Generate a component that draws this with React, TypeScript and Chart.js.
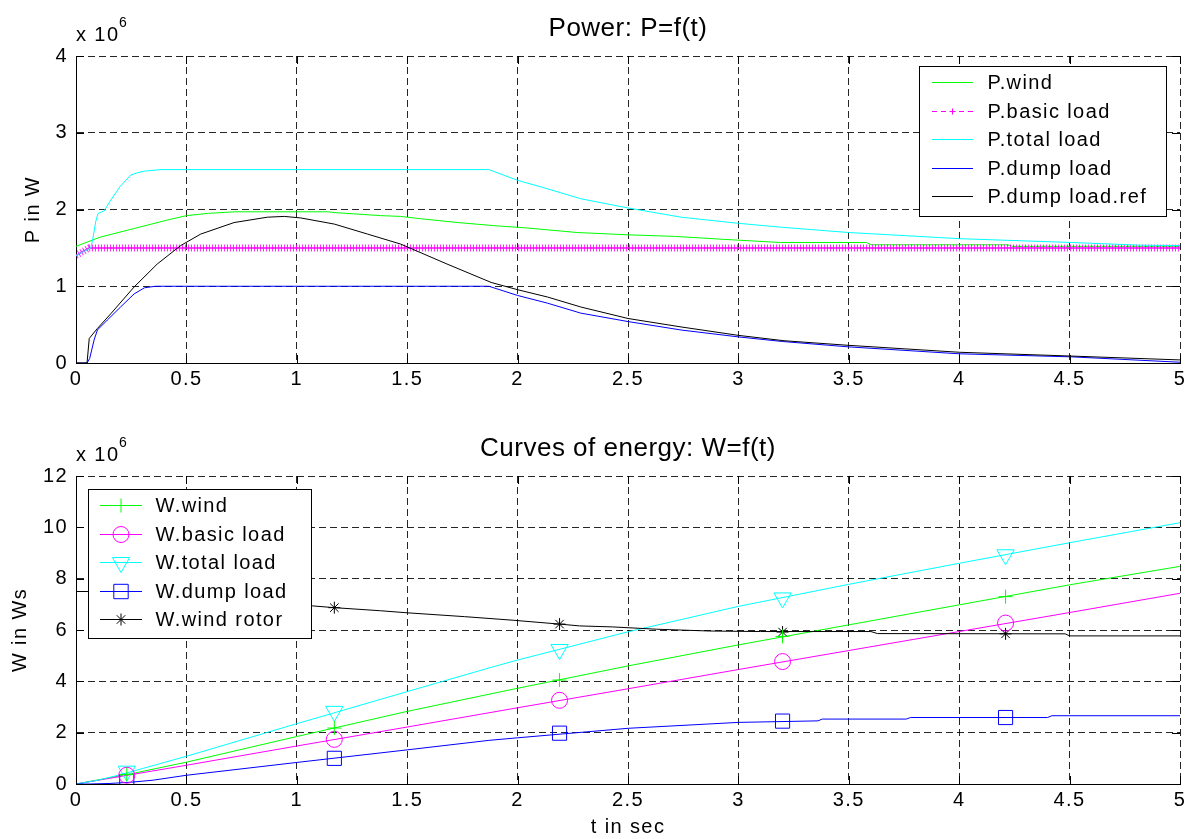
import React, { useEffect, useRef } from 'react';
import { Chart, registerables } from 'chart.js';

Chart.register(...registerables);

const FONT = '"Liberation Sans", Arial, Helvetica, sans-serif';

// ---------------- Power plot (values in 10^6 W) ----------------
const windT = [0, 0.11, 0.26, 0.41, 0.5, 0.6, 0.72, 1.14, 1.17, 1.38, 1.47, 1.56, 1.73, 1.89, 2.04, 2.27, 2.5, 2.71, 2.94, 3.19, 3.58, 3.6, 4.22, 4.24, 5.0];
const windP = [1.52, 1.64, 1.75, 1.86, 1.92, 1.95, 1.97, 1.97, 1.96, 1.92, 1.91, 1.88, 1.83, 1.79, 1.76, 1.7, 1.67, 1.65, 1.61, 1.57, 1.57, 1.54, 1.54, 1.52, 1.52];

const basicT = [0, 0.03, 0.06, 5.0];
const basicP = [1.4, 1.45, 1.5, 1.5];

const totalT = [0, 0.04, 0.067, 0.075, 0.09, 0.1, 0.127, 0.157, 0.2, 0.248, 0.28, 0.31, 0.385, 1.87, 2.0, 2.135, 2.286, 2.5, 2.74, 3.0, 3.19, 3.5, 4.0, 4.51, 4.82, 5.0];
const totalP = [1.4, 1.46, 1.5, 1.6, 1.85, 1.95, 1.98, 2.12, 2.3, 2.45, 2.48, 2.5, 2.52, 2.52, 2.38, 2.27, 2.14, 2.02, 1.9, 1.82, 1.77, 1.7, 1.62, 1.57, 1.535, 1.53];

const dumpT = [0, 0.05, 0.062, 0.082, 0.097, 0.142, 0.202, 0.263, 0.31, 0.36, 1.87, 2.0, 2.135, 2.286, 2.5, 2.74, 3.0, 3.2, 3.5, 4.0, 4.51, 5.0];
const dumpP = [0, 0, 0.06, 0.3, 0.43, 0.56, 0.73, 0.9, 0.98, 1.0, 1.0, 0.88, 0.78, 0.65, 0.54, 0.43, 0.34, 0.28, 0.21, 0.12, 0.08, 0.01];

const refT = [0, 0.05, 0.06, 0.097, 0.157, 0.263, 0.368, 0.474, 0.565, 0.716, 0.867, 0.943, 1.018, 1.17, 1.32, 1.47, 1.68, 1.88, 2.0, 2.135, 2.286, 2.5, 2.74, 3.0, 3.207, 3.5, 4.0, 4.51, 5.0];
const refP = [0, 0, 0.32, 0.45, 0.64, 0.99, 1.29, 1.53, 1.68, 1.83, 1.9, 1.91, 1.89, 1.81, 1.68, 1.55, 1.29, 1.05, 0.955, 0.86, 0.73, 0.58, 0.47, 0.36, 0.29, 0.23, 0.14, 0.09, 0.04];

// ---------------- Energy plot (values in 10^6 Ws) ----------------
const eWindT = [0, 0.25, 0.5, 1.0, 1.5, 2.0, 2.5, 3.0, 3.5, 4.0, 4.5, 5.0];
const eWindW = [0, 0.4, 0.85, 1.85, 2.83, 3.73, 4.6, 5.42, 6.2, 6.98, 7.76, 8.48];

const eBasicT = [0, 0.5, 1.0, 1.5, 2.0, 2.5, 3.0, 3.5, 4.0, 4.5, 5.0];
const eBasicW = [0, 0.73, 1.48, 2.22, 2.97, 3.71, 4.46, 5.2, 5.94, 6.68, 7.43];

const eTotalT = [0, 0.07, 0.1, 0.2, 0.3, 0.4, 0.5, 1.0, 1.5, 1.87, 2.0, 2.5, 3.0, 3.5, 4.0, 4.5, 5.0];
const eTotalW = [0, 0.1, 0.15, 0.36, 0.6, 0.84, 1.08, 2.35, 3.6, 4.52, 4.83, 5.93, 6.92, 7.78, 8.6, 9.4, 10.18];

const eDumpT = [0, 0.06, 0.15, 0.25, 0.35, 0.5, 1.0, 1.5, 1.87, 2.0, 2.5, 3.0, 3.36, 3.38, 3.76, 3.78, 4.4, 4.42, 5.0];
const eDumpW = [0, 0, 0.02, 0.07, 0.15, 0.34, 0.84, 1.33, 1.7, 1.8, 2.17, 2.4, 2.46, 2.53, 2.53, 2.59, 2.59, 2.66, 2.66];

const eRotorT = [0, 0.05, 0.3, 0.6, 0.9, 1.07, 1.17, 1.38, 1.5, 1.76, 1.98, 2.19, 2.28, 2.43, 2.63, 2.87, 3.1, 3.6, 3.63, 4.48, 4.5, 5.0];
const eRotorW = [7.5, 7.5, 7.42, 7.25, 7.05, 6.94, 6.87, 6.75, 6.67, 6.52, 6.38, 6.23, 6.16, 6.12, 6.03, 5.96, 5.94, 5.94, 5.86, 5.85, 5.77, 5.77];

const markerT = [0.23, 1.17, 2.19, 3.2, 4.21];
const mWind = [0.37, 2.18, 4.05, 5.75, 7.3];
const mBasic = [0.34, 1.74, 3.26, 4.77, 6.27];
const mTotal = [0.5, 2.83, 5.24, 7.25, 8.93];
const mDump = [0.1, 1.0, 1.98, 2.45, 2.59];
const mRotor = [7.4, 6.87, 6.23, 5.92, 5.85];

// ---------------- Text ----------------
const powerTitle = 'Power: P=f(t)';
const energyTitle = 'Curves of energy: W=f(t)';
const powerYLabel = 'P in W';
const energyYLabel = 'W in Ws';
const xLabel = 't in sec';
const powerLabels = ['P.wind', 'P.basic load', 'P.total load', 'P.dump load', 'P.dump load.ref'];
const energyLabels = ['W.wind', 'W.basic load', 'W.total load', 'W.dump load', 'W.wind rotor'];

const GREEN = '#00ff00';
const MAGENTA = '#ff00ff';
const CYAN = '#00ffff';
const BLUE = '#0000ff';
const BLACK = '#000000';
const GRID = 'rgba(0,0,0,0.85)';

const pts = (t: number[], v: number[]) => t.map((x, i) => ({ x, y: v[i] }));
const fmt = (v: any) => String(Math.round(Number(v) * 100) / 100);

function drawMarker(ctx: CanvasRenderingContext2D, type: string, x: number, y: number, color: string) {
  ctx.save();
  ctx.strokeStyle = color;
  ctx.lineWidth = 1;
  ctx.setLineDash([]);
  ctx.beginPath();
  if (type === 'cross') {
    const r = 7;
    ctx.moveTo(x - r, y); ctx.lineTo(x + r, y);
    ctx.moveTo(x, y - r); ctx.lineTo(x, y + r);
  } else if (type === 'smallcross') {
    const r = 3;
    ctx.moveTo(x - r, y); ctx.lineTo(x + r, y);
    ctx.moveTo(x, y - r); ctx.lineTo(x, y + r);
  } else if (type === 'circle') {
    ctx.arc(x, y, 8, 0, Math.PI * 2);
  } else if (type === 'triangle') {
    const r = 10;
    ctx.moveTo(x, y + r);
    ctx.lineTo(x - r * Math.sin(Math.PI / 3), y - r / 2);
    ctx.lineTo(x + r * Math.sin(Math.PI / 3), y - r / 2);
    ctx.closePath();
  } else if (type === 'rect') {
    const s = 7.2;
    ctx.rect(x - s, y - s, 2 * s, 2 * s);
  } else if (type === 'star') {
    const r = 6;
    const d = r * Math.SQRT1_2;
    ctx.moveTo(x - r, y); ctx.lineTo(x + r, y);
    ctx.moveTo(x, y - r); ctx.lineTo(x, y + r);
    ctx.moveTo(x - d, y - d); ctx.lineTo(x + d, y + d);
    ctx.moveTo(x - d, y + d); ctx.lineTo(x + d, y - d);
  }
  ctx.stroke();
  ctx.restore();
}

type LegendRow = { label: string; color: string; dash?: number[]; marker?: string };
type Deco = {
  title: string;
  titleY: number;
  expY: number;
  expSupY: number;
  legend: { x: number; y: number; w: number; h: number; row0: number; gap: number; lineX0: number; lineX1: number; textX: number; rows: LegendRow[] };
};

function makeDeco(d: Deco) {
  return {
    id: 'deco',
    beforeDraw(chart: any) {
      const ctx = chart.ctx;
      ctx.save();
      ctx.fillStyle = '#fff';
      ctx.fillRect(0, 0, chart.width, chart.height);
      ctx.restore();
      ctx.letterSpacing = '1.4px';
    },
    afterDraw(chart: any) {
      const ctx: CanvasRenderingContext2D = chart.ctx;
      const { left, right, top, bottom } = chart.chartArea;
      const xs = chart.scales.x;
      const ys = chart.scales.y;
      // inward tick marks on all four sides
      ctx.save();
      ctx.strokeStyle = '#000';
      ctx.lineWidth = 1;
      ctx.setLineDash([]);
      ctx.beginPath();
      xs.ticks.forEach((t: any) => {
        const px = Math.round(xs.getPixelForValue(t.value)) + 0.5;
        ctx.moveTo(px, bottom); ctx.lineTo(px, bottom - 8);
        ctx.moveTo(px, top); ctx.lineTo(px, top + 8);
      });
      ys.ticks.forEach((t: any) => {
        const py = Math.round(ys.getPixelForValue(t.value)) + 0.5;
        ctx.moveTo(left, py); ctx.lineTo(left + 8, py);
        ctx.moveTo(right, py); ctx.lineTo(right - 8, py);
      });
      ctx.stroke();
      ctx.restore();

      // title
      ctx.save();
      (ctx as any).letterSpacing = '0.5px';
      ctx.fillStyle = '#000';
      ctx.font = `26px ${FONT}`;
      ctx.textAlign = 'center';
      ctx.textBaseline = 'alphabetic';
      ctx.fillText(d.title, (left + right) / 2, d.titleY);
      // exponent label
      (ctx as any).letterSpacing = '1.4px';
      ctx.textAlign = 'left';
      ctx.font = `20px ${FONT}`;
      ctx.fillText('x 10', left, d.expY);
      ctx.font = `14px ${FONT}`;
      ctx.fillText('6', left + 43, d.expSupY);
      ctx.restore();

      // legend
      const L = d.legend;
      ctx.save();
      ctx.fillStyle = '#fff';
      ctx.fillRect(L.x, L.y, L.w, L.h);
      ctx.strokeStyle = '#000';
      ctx.lineWidth = 1;
      ctx.setLineDash([]);
      ctx.strokeRect(L.x + 0.5, L.y + 0.5, L.w, L.h);
      L.rows.forEach((r, i) => {
        const y = Math.round(L.row0 + i * L.gap) + 0.5;
        ctx.save();
        ctx.strokeStyle = r.color;
        ctx.lineWidth = 1;
        ctx.setLineDash(r.dash || []);
        ctx.beginPath();
        ctx.moveTo(L.lineX0, y);
        ctx.lineTo(L.lineX1, y);
        ctx.stroke();
        ctx.restore();
        if (r.marker) drawMarker(ctx, r.marker, (L.lineX0 + L.lineX1) / 2, y, r.color);
        ctx.fillStyle = '#000';
        (ctx as any).letterSpacing = '1.4px';
        ctx.font = `20px ${FONT}`;
        ctx.textAlign = 'left';
        ctx.textBaseline = 'middle';
        ctx.fillText(r.label, L.textX, y + 1);
      });
      ctx.restore();
    },
  };
}

const tickFont = { family: FONT, size: 20 };

function xScale(height: number, title?: string) {
  return {
    type: 'linear',
    min: 0,
    max: 5,
    ticks: { stepSize: 0.5, padding: 4, color: '#000', font: tickFont, maxRotation: 0, autoSkip: false, callback: fmt },
    grid: { color: GRID, drawTicks: false, lineWidth: 1 },
    border: { display: true, color: '#000', width: 1, dash: [7, 4] },
    title: title
      ? { display: true, text: title, color: '#000', font: tickFont, padding: { top: 0, bottom: 0 } }
      : { display: false },
    afterFit: (s: any) => {
      s.height = height;
      s.paddingLeft = 0;
      s.paddingRight = 0;
    },
  };
}

function yScale(max: number, step: number, title: string, titlePad: number) {
  return {
    type: 'linear',
    min: 0,
    max,
    ticks: { stepSize: step, padding: 8, color: '#000', font: tickFont, callback: fmt },
    grid: { color: GRID, drawTicks: false, lineWidth: 1 },
    border: { display: true, color: '#000', width: 1, dash: [7, 4] },
    title: { display: true, text: title, color: '#000', font: tickFont, padding: { top: titlePad, bottom: 0 } },
    afterFit: (s: any) => {
      s.width = 76;
      s.paddingTop = 0;
      s.paddingBottom = 0;
    },
  };
}

function line(label: string, t: number[], v: number[], color: string, order: number, extra: any = {}) {
  return {
    label,
    data: pts(t, v),
    borderColor: color,
    backgroundColor: color,
    borderWidth: 1,
    pointRadius: 0,
    fill: false,
    tension: 0,
    order,
    ...extra,
  };
}

function markers(label: string, v: number[], color: string, style: string, radius: number, rotation = 0) {
  return {
    label,
    data: pts(markerT, v),
    showLine: false,
    borderColor: color,
    backgroundColor: 'rgba(0,0,0,0)',
    pointStyle: style,
    pointRadius: radius,
    pointRotation: rotation,
    pointBorderWidth: 1,
    pointBorderColor: color,
    pointBackgroundColor: 'rgba(0,0,0,0)',
    order: -10,
  };
}

const commonOpts = (topPad: number) => ({
  responsive: false,
  maintainAspectRatio: false,
  animation: false,
  events: [],
  layout: { autoPadding: false, padding: { left: 0, right: 7, top: topPad, bottom: 0 } },
  plugins: { legend: { display: false }, tooltip: { enabled: false }, title: { display: false } },
});

export default function App() {
  const c1 = useRef<HTMLCanvasElement>(null);
  const c2 = useRef<HTMLCanvasElement>(null);

  useEffect(() => {
    const powerCfg: any = {
      type: 'line',
      data: {
        datasets: [
          line(powerLabels[0], windT, windP, GREEN, 5),
          line(powerLabels[1], basicT, basicP, 'rgba(255,0,255,0.85)', 4, { borderWidth: 7, borderDash: [1, 2] }),
          line(powerLabels[1], basicT, basicP, MAGENTA, 3.5, { borderWidth: 1.5 }),
          line(powerLabels[2], totalT, totalP, CYAN, 3),
          line(powerLabels[3], dumpT, dumpP, BLUE, 2),
          line(powerLabels[4], refT, refP, BLACK, 1),
        ],
      },
      options: {
        ...commonOpts(56),
        scales: { x: xScale(37), y: yScale(4, 1, powerYLabel, 21.5) },
      },
      plugins: [
        makeDeco({
          title: powerTitle,
          titleY: 36,
          expY: 40.5,
          expSupY: 27,
          legend: {
            x: 919, y: 66, w: 247, h: 150, row0: 82.3, gap: 28.5,
            lineX0: 932, lineX1: 973, textX: 987.5,
            rows: [
              { label: powerLabels[0], color: GREEN },
              { label: powerLabels[1], color: MAGENTA, dash: [5, 4], marker: 'smallcross' },
              { label: powerLabels[2], color: CYAN },
              { label: powerLabels[3], color: BLUE },
              { label: powerLabels[4], color: BLACK },
            ],
          },
        }),
      ],
    };

    const energyCfg: any = {
      type: 'line',
      data: {
        datasets: [
          line(energyLabels[0], eWindT, eWindW, GREEN, 5),
          line(energyLabels[1], eBasicT, eBasicW, MAGENTA, 4),
          line(energyLabels[2], eTotalT, eTotalW, CYAN, 3),
          line(energyLabels[3], eDumpT, eDumpW, BLUE, 2),
          line(energyLabels[4], eRotorT, eRotorW, BLACK, 1),
          markers(energyLabels[0], mWind, GREEN, 'cross', 7),
          markers(energyLabels[1], mBasic, MAGENTA, 'circle', 8),
          markers(energyLabels[2], mTotal, CYAN, 'triangle', 10, 180),
          markers(energyLabels[3], mDump, BLUE, 'rect', 10),
          markers(energyLabels[4], mRotor, BLACK, 'star', 6),
        ],
      },
      options: {
        ...commonOpts(76),
        scales: { x: xScale(55, xLabel), y: yScale(12, 2, energyYLabel, 8) },
      },
      plugins: [
        makeDeco({
          title: energyTitle,
          titleY: 56,
          expY: 60.5,
          expSupY: 47,
          legend: {
            x: 88, y: 89, w: 223, h: 149, row0: 105, gap: 28.5,
            lineX0: 100, lineX1: 142, textX: 155.5,
            rows: [
              { label: energyLabels[0], color: GREEN, marker: 'cross' },
              { label: energyLabels[1], color: MAGENTA, marker: 'circle' },
              { label: energyLabels[2], color: CYAN, marker: 'triangle' },
              { label: energyLabels[3], color: BLUE, marker: 'rect' },
              { label: energyLabels[4], color: BLACK, marker: 'star' },
            ],
          },
        }),
      ],
    };

    const ch1 = new Chart(c1.current as HTMLCanvasElement, powerCfg);
    const ch2 = new Chart(c2.current as HTMLCanvasElement, energyCfg);
    return () => {
      ch1.destroy();
      ch2.destroy();
    };
  }, []);

  return (
    <div style={{ position: 'fixed', left: 0, top: 0, width: 1187, height: 839, background: '#fff' }}>
      <canvas
        ref={c1}
        width={1187}
        height={400}
        style={{ position: 'absolute', left: 0, top: 0, width: 1187, height: 400 }}
      />
      <canvas
        ref={c2}
        width={1187}
        height={439}
        style={{ position: 'absolute', left: 0, top: 400, width: 1187, height: 439 }}
      />
    </div>
  );
}
